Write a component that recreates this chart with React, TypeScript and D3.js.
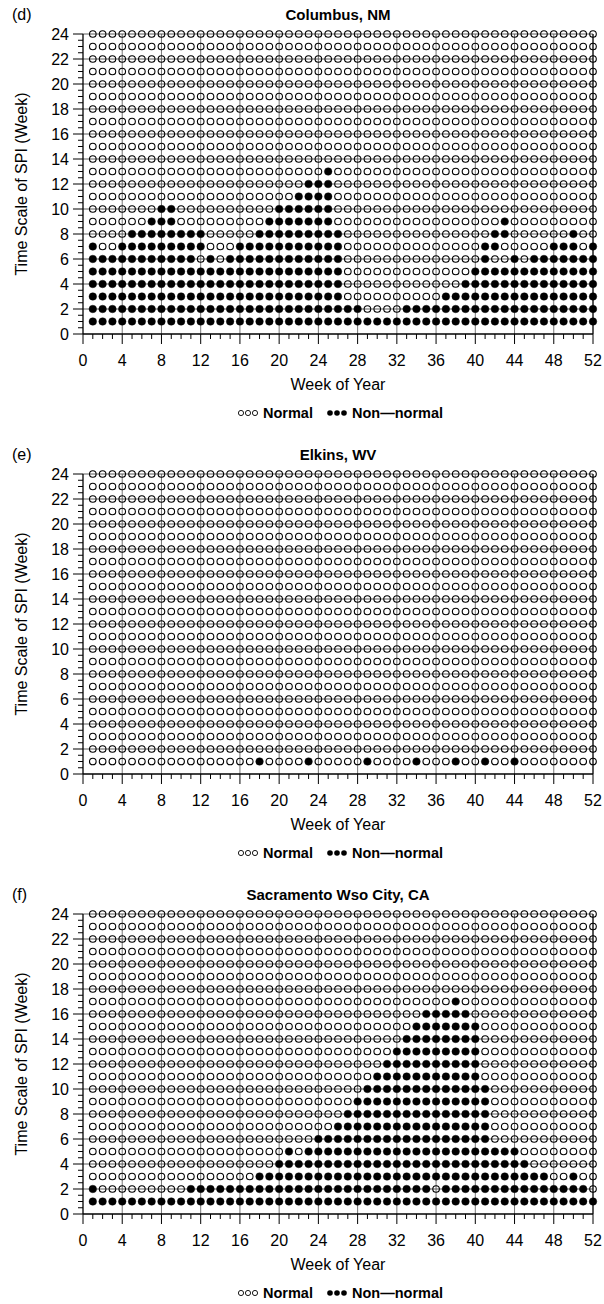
import React from "react";
import * as d3 from "d3";

// ---- data: filled (non-normal) week ranges per SPI time scale (index 0 = scale 1) ----
const WEEKS = d3.range(1, 53);
const SCALES = d3.range(1, 25);
const X_TICKS = d3.range(0, 53, 4);
const Y_TICKS = d3.range(0, 25, 2);

const columbusNonNormal: number[][][] = [
  [[1, 52]],
  [[1, 28], [33, 52]],
  [[1, 26], [37, 52]],
  [[1, 26], [39, 52]],
  [[1, 26], [40, 52]],
  [[1, 11], [13, 13], [15, 26], [41, 41], [44, 44], [46, 52]],
  [[1, 1], [4, 12], [16, 26], [41, 42], [48, 50], [52, 52]],
  [[5, 12], [18, 26], [42, 43], [50, 50]],
  [[7, 9], [19, 25], [43, 43]],
  [[8, 9], [20, 25]],
  [[22, 25]],
  [[23, 25]],
  [[25, 25]],
];

const elkinsNonNormal: number[][][] = [
  [[18, 18], [23, 23], [29, 29], [34, 34], [38, 38], [41, 41], [44, 44]],
];

const sacramentoNonNormal: number[][][] = [
  [[1, 52]],
  [[1, 1], [11, 35], [37, 51]],
  [[18, 47], [50, 50]],
  [[20, 45]],
  [[21, 21], [23, 44]],
  [[24, 41]],
  [[26, 41]],
  [[27, 41]],
  [[28, 41]],
  [[29, 41]],
  [[30, 40]],
  [[31, 40]],
  [[32, 40]],
  [[33, 40]],
  [[34, 40]],
  [[35, 39]],
  [[38, 38]],
];

const PANELS = [
  { tag: "(d)", title: "Columbus, NM", data: columbusNonNormal },
  { tag: "(e)", title: "Elkins, WV", data: elkinsNonNormal },
  { tag: "(f)", title: "Sacramento Wso City, CA", data: sacramentoNonNormal },
];

const FONT = "'Liberation Sans', Arial, Helvetica, sans-serif";
const W = 604;
const H = 1304;
const PANEL_H = 440;
const LEFT = 83;
const RIGHT = 593;
const TOP = 34;
const BOTTOM = 334;

function isFilled(data: number[][][], scale: number, week: number) {
  const ranges = data[scale - 1];
  if (!ranges) return false;
  return ranges.some(([a, b]) => week >= a && week <= b);
}

function Panel({ tag, title, data, offset }: any) {
  const x = d3.scaleLinear().domain([0, 52]).range([LEFT, RIGHT]);
  const y = d3.scaleLinear().domain([0, 24]).range([BOTTOM, TOP]);
  const cx = (LEFT + RIGHT) / 2;
  const cells: any[] = [];
  SCALES.forEach((s) =>
    WEEKS.forEach((w) => cells.push({ s, w, f: isFilled(data, s, w) }))
  );
  return (
    <g transform={`translate(0,${offset})`}>
      <text x={12} y={20} fontSize={16} fontFamily={FONT}>{tag}</text>
      <text x={cx} y={20} fontSize={15} fontWeight="bold" textAnchor="middle" fontFamily={FONT}>{title}</text>
      {/* grid */}
      {Y_TICKS.filter((t) => t > 0).map((t) => (
        <line key={"h" + t} x1={x(0)} x2={x(52)} y1={y(t)} y2={y(t)} stroke="#333" strokeWidth={0.8} />
      ))}
      {X_TICKS.filter((t) => t > 0).map((t) => (
        <line key={"v" + t} x1={x(t)} x2={x(t)} y1={y(0)} y2={y(24)} stroke={t === 52 ? "#111" : "#555"} strokeWidth={t === 52 ? 1.4 : 0.8} />
      ))}
      {/* axes */}
      <line x1={x(0)} x2={x(52)} y1={y(0)} y2={y(0)} stroke="#000" strokeWidth={1.3} />
      <line x1={x(0)} x2={x(0)} y1={y(0)} y2={y(24)} stroke="#000" strokeWidth={1.3} />
      {WEEKS.concat([0]).map((t) => (
        <line key={"xt" + t} x1={x(t)} x2={x(t)} y1={y(0)} y2={y(0) + (t % 4 === 0 ? 10 : 5)} stroke="#000" strokeWidth={1} />
      ))}
      {d3.range(0, 24.5, 0.5).map((t) => (
        <line key={"yt" + t} x1={x(0) - (t % 2 === 0 ? 10 : 5)} x2={x(0)} y1={y(t)} y2={y(t)} stroke="#000" strokeWidth={1} />
      ))}
      {X_TICKS.map((t) => (
        <text key={"xl" + t} x={x(t)} y={y(0) + 32} fontSize={16} textAnchor="middle" fontFamily={FONT}>{t}</text>
      ))}
      {Y_TICKS.map((t) => (
        <text key={"yl" + t} x={x(0) - 14} y={y(t) + 5.5} fontSize={16} textAnchor="end" fontFamily={FONT}>{t}</text>
      ))}
      <text transform={`translate(27,${(TOP + BOTTOM) / 2}) rotate(-90)`} fontSize={16} textAnchor="middle" fontFamily={FONT}>
        Time Scale of SPI (Week)
      </text>
      <text x={cx} y={y(0) + 56} fontSize={16} textAnchor="middle" fontFamily={FONT}>Week of Year</text>
      {/* cells */}
      {cells.map((c) => (
        <circle
          key={c.s + "-" + c.w}
          cx={x(c.w)}
          cy={y(c.s)}
          r={c.f ? 3.8 : 3.3}
          fill={c.f ? "#000" : "none"}
          stroke="#000"
          strokeWidth={c.f ? 0.4 : 1.1}
        />
      ))}
      {/* legend */}
      <g transform={`translate(0,${y(0) + 79})`}>
        {[0, 1, 2].map((i) => (
          <circle key={"lo" + i} cx={241 + i * 7} cy={0} r={2.6} fill="none" stroke="#000" strokeWidth={0.9} />
        ))}
        <text x={263} y={5} fontSize={14.5} fontWeight="bold" fontFamily={FONT}>Normal</text>
        {[0, 1, 2].map((i) => (
          <circle key={"lf" + i} cx={330 + i * 7} cy={0} r={2.8} fill="#000" />
        ))}
        <text x={352} y={5} fontSize={14.5} fontWeight="bold" fontFamily={FONT}>Non—normal</text>
      </g>
    </g>
  );
}

export default function App() {
  return (
    <svg
      width={W}
      height={H}
      viewBox={`0 0 ${W} ${H}`}
      style={{ position: "absolute", left: 0, top: 0, background: "#fff" }}
    >
      <rect x={0} y={0} width={W} height={H} fill="#fff" />
      {PANELS.map((p, i) => (
        <Panel key={p.tag} {...p} offset={i * PANEL_H} />
      ))}
    </svg>
  );
}
